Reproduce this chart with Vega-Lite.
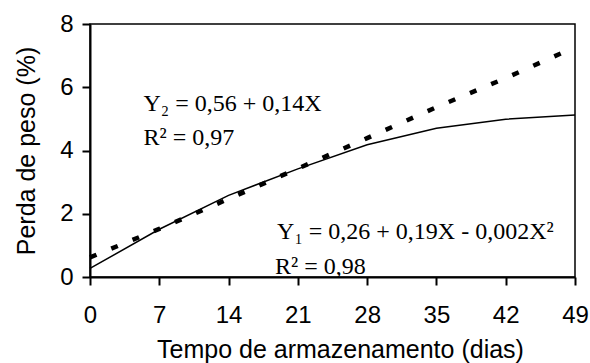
{
  "$schema": "https://vega.github.io/schema/vega-lite/v6.json",
  "width": 485,
  "height": 253,
  "autosize": {"type": "none"},
  "padding": {"left": 90, "top": 24, "right": 15, "bottom": 86},
  "background": "white",
  "config": {
    "view": {"stroke": "black", "strokeWidth": 1.5},
    "axis": {
      "domainColor": "black",
      "domainWidth": 2,
      "tickColor": "black",
      "tickWidth": 2,
      "tickSize": 8,
      "grid": false,
      "labelFont": "Liberation Sans",
      "labelFontSize": 24,
      "labelColor": "black",
      "titleFont": "Liberation Sans",
      "titleFontSize": 25,
      "titleFontWeight": "normal",
      "titleColor": "black"
    }
  },
  "datasets": {
    "y1": [
      {"dia": 0, "perda": 0.27},
      {"dia": 7, "perda": 1.51},
      {"dia": 14, "perda": 2.58},
      {"dia": 21, "perda": 3.42},
      {"dia": 28, "perda": 4.18},
      {"dia": 35, "perda": 4.7},
      {"dia": 42, "perda": 4.99},
      {"dia": 49, "perda": 5.12}
    ],
    "y2": [
      {"dia": 0, "perda": 0.62},
      {"dia": 7, "perda": 1.52},
      {"dia": 14, "perda": 2.47},
      {"dia": 21, "perda": 3.43},
      {"dia": 28, "perda": 4.39},
      {"dia": 35, "perda": 5.37},
      {"dia": 42, "perda": 6.29},
      {"dia": 49, "perda": 7.27}
    ],
    "eq": [
      {"dia": 5.4, "perda": 5.26, "texto": "Y₂ = 0,56 + 0,14X"},
      {"dia": 5.4, "perda": 4.17, "texto": "R² = 0,97"},
      {"dia": 18.9, "perda": 1.2, "texto": "Y₁ = 0,26 + 0,19X - 0,002X²"},
      {"dia": 18.7, "perda": 0.1, "texto": "R² = 0,98"}
    ]
  },
  "encoding": {
    "x": {
      "field": "dia",
      "type": "quantitative",
      "scale": {"domain": [0, 49], "nice": false},
      "axis": {
        "title": "Tempo de armazenamento (dias)",
        "values": [0, 7, 14, 21, 28, 35, 42, 49],
        "labelPadding": 18,
        "titlePadding": 10,
        "titleX": 250,
        "labelFlush": false
      }
    },
    "y": {
      "field": "perda",
      "type": "quantitative",
      "scale": {"domain": [0, 8], "nice": false},
      "axis": {
        "title": "Perda de peso (%)",
        "values": [0, 2, 4, 6, 8],
        "labelPadding": 9,
        "titlePadding": 20
      }
    }
  },
  "layer": [
    {
      "data": {"name": "y1"},
      "mark": {"type": "line", "color": "black", "strokeWidth": 1.5}
    },
    {
      "data": {"name": "y2"},
      "mark": {"type": "line", "color": "black", "strokeWidth": 4.5, "strokeDash": [7, 16], "strokeCap": "butt"}
    },
    {
      "data": {"name": "eq"},
      "mark": {"type": "text", "align": "left", "baseline": "alphabetic", "font": "Liberation Serif", "fontSize": 24, "color": "black"},
      "encoding": {"text": {"field": "texto"}}
    }
  ]
}
